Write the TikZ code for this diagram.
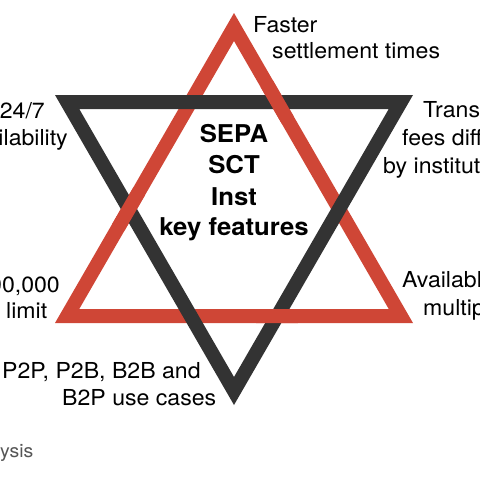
\documentclass[tikz,border=0pt]{standalone}
\usepackage{fontspec}
\setmainfont[FakeStretch=1.05]{TeX Gyre Heros}
\definecolor{starred}{HTML}{CF4636}
\definecolor{stardark}{HTML}{333333}
\definecolor{notegray}{HTML}{555555}
\begin{document}
\begin{tikzpicture}[x=1pt,y=-1pt,
  lbl/.style={inner sep=0pt, font=\fontsize{22}{26}\selectfont, text=black},
  ttl/.style={inner sep=0pt, anchor=base, font=\fontsize{24.5}{30}\selectfont\bfseries, text=black},
  redband/.style={fill=starred, even odd rule},
  darkband/.style={fill=stardark, even odd rule}]
\useasboundingbox (0,0) rectangle (480,480);
% red triangle (pointing up)
\coordinate (RA) at (234,13);    \coordinate (RB) at (55,323);    \coordinate (RC) at (413,323);
\coordinate (RAi) at (234,41);   \coordinate (RBi) at (79.25,309); \coordinate (RCi) at (388.75,309);
% dark triangle (pointing down)
\coordinate (DA) at (55,95);     \coordinate (DB) at (413,95);    \coordinate (DC) at (234,405);
\coordinate (DAi) at (79.25,109); \coordinate (DBi) at (388.75,109); \coordinate (DCi) at (234,377);
\def\redstar{(RA) -- (RB) -- (RC) -- cycle (RAi) -- (RBi) -- (RCi) -- cycle}
\def\darkstar{(DA) -- (DB) -- (DC) -- cycle (DAi) -- (DBi) -- (DCi) -- cycle}
\fill[redband] \redstar;
\fill[darkband] \darkstar;
% interlace: red over dark at three crossings
\foreach \cx/\cy in {277/102, 128/209, 277/316}{
  \begin{scope}
    \clip (\cx,\cy) circle (22);
    \fill[redband] \redstar;
  \end{scope}
}
% centre title
\node[ttl] (t1) at (234,142) {SEPA};
\node[ttl] (t2) at (234,173) {SCT};
\node[ttl] (t3) at (234,205) {Inst};
\node[ttl] (t4) at (234,235) {key features};
% labels
\node[lbl, anchor=base west] (f1) at (253,32) {Faster};
\node[lbl, anchor=base west] (f2) at (272,58) {settlement times};
\node[lbl, anchor=base west] (tr1) at (423,117) {Transaction};
\node[lbl, anchor=base west] (tr2) at (402,145) {fees differ};
\node[lbl, anchor=base west] (tr3) at (383,173) {by institution};
\node[lbl, anchor=base west] (av1) at (402,287) {Available in};
\node[lbl, anchor=base west] (av2) at (423,315) {multiple};
\node[lbl, anchor=base east] (a1) at (45,118) {24/7};
\node[lbl, anchor=base east] (a2) at (68,145) {availability};
\node[lbl, anchor=base east] (l1) at (60,292) {€100,000};
\node[lbl, anchor=base west] (l2) at (6,318) {limit};
\node[lbl, anchor=base west] (u1) at (2,378) {P2P, P2B, B2B and};
\node[lbl, anchor=base west] (u2) at (62,405) {B2P use cases};
\node[inner sep=0pt, anchor=base west, text=notegray, font=\fontsize{18.5}{22}\selectfont] (src) at (0,457) {ysis};
\end{tikzpicture}
\end{document}
